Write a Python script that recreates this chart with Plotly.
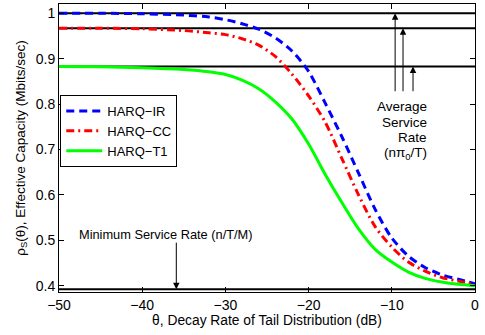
import plotly.graph_objects as go

theta = [-50, -45, -40, -35, -32, -30, -28, -26, -24, -22, -20, -18, -16, -14, -12, -10, -8, -6, -4, -2, 0]
harq_ir = [1.0, 1.0, 0.999, 0.996, 0.992, 0.986, 0.977, 0.965, 0.946, 0.917, 0.872, 0.802, 0.728, 0.648, 0.568, 0.505, 0.465, 0.44, 0.424, 0.414, 0.404]
harq_cc = [0.967, 0.967, 0.966, 0.962, 0.957, 0.953, 0.944, 0.93, 0.905, 0.866, 0.818, 0.76, 0.68, 0.60, 0.53, 0.485, 0.452, 0.432, 0.418, 0.41, 0.402]
harq_t1 = [0.883, 0.882, 0.88, 0.876, 0.871, 0.865, 0.853, 0.834, 0.805, 0.767, 0.712, 0.645, 0.583, 0.525, 0.48, 0.452, 0.43, 0.416, 0.408, 0.403, 0.4]

avg_rates = [1.0, 0.967, 0.883]
min_rate = 0.392
x_ticks = [-50, -40, -30, -20, -10, 0]
y_ticks = [0.4, 0.5, 0.6, 0.7, 0.8, 0.9, 1.0]

FONT = "Liberation Sans, Arial, Helvetica, sans-serif"

fig = go.Figure()
fig.add_trace(go.Scatter(x=theta, y=harq_ir, name="HARQ−IR", mode="lines",
                         line=dict(color="#0000FF", width=3, dash="8px,5px", shape="spline", smoothing=0.8)))
fig.add_trace(go.Scatter(x=theta, y=harq_cc, name="HARQ−CC", mode="lines",
                         line=dict(color="#FF0000", width=3, dash="8px,4px,2px,4px", shape="spline", smoothing=0.8)))
fig.add_trace(go.Scatter(x=theta, y=harq_t1, name="HARQ−T1", mode="lines",
                         line=dict(color="#00FF00", width=3, shape="spline", smoothing=0.8)))

for r in avg_rates + [min_rate]:
    fig.add_hline(y=r, line=dict(color="black", width=2), layer="below")

# Average service rate arrows
arrow_x = [-9.6, -8.65, -7.45]
for ax_, r in zip(arrow_x, avg_rates):
    fig.add_annotation(x=ax_, y=r, ax=ax_, ay=0.825, xref="x", yref="y", axref="x", ayref="y",
                       text="", showarrow=True, arrowhead=2, arrowsize=1.3, arrowwidth=1, arrowcolor="black")

for txt, yy in [("Average", 0.794), ("Service", 0.759), ("Rate", 0.727), ("(nπ<sub>0</sub>/T)", 0.692)]:
    fig.add_annotation(x=-5.5, y=yy, xref="x", yref="y", text=txt, showarrow=False,
                       xanchor="right", yanchor="middle", font=dict(family=FONT, size=13.5, color="black"))

# Minimum service rate
fig.add_annotation(x=-35.9, y=min_rate, ax=-35.9, ay=0.498, xref="x", yref="y", axref="x", ayref="y",
                   text="", showarrow=True, arrowhead=2, arrowsize=1.3, arrowwidth=1, arrowcolor="black")
fig.add_annotation(x=-37.1, y=0.513, xref="x", yref="y", text="Minimum Service Rate (n/T/M)",
                   showarrow=False, xanchor="center", yanchor="middle",
                   font=dict(family=FONT, size=12.8, color="black"))

fig.update_layout(
    width=485, height=335,
    margin=dict(l=59, r=10, t=4, b=43),
    paper_bgcolor="white", plot_bgcolor="white",
    font=dict(family=FONT, size=14, color="black"),
    showlegend=True,
    legend=dict(x=0.003, y=0.684, xanchor="left", yanchor="top",
                bgcolor="white", bordercolor="black", borderwidth=1,
                font=dict(family=FONT, size=13, color="black"),
                tracegroupgap=0, itemwidth=36),
)
fig.update_xaxes(range=[-50, 0], tickvals=x_ticks, ticks="inside", ticklen=5, tickcolor="black",
                 tickfont=dict(size=14),
                 showline=True, linecolor="black", linewidth=1, mirror="allticks", showgrid=False,
                 zeroline=False, automargin=False,
                 title=dict(text="θ, Decay Rate of Tail Distribution (dB)", font=dict(size=13.8), standoff=3))
fig.update_yaxes(range=[0.386, 1.0205], tickvals=y_ticks, ticktext=["0.4", "0.5", "0.6", "0.7", "0.8", "0.9", "1"],
                 ticks="inside", ticklen=5, tickcolor="black", tickfont=dict(size=14),
                 showline=True, linecolor="black", linewidth=1, mirror="allticks",
                 showgrid=False, zeroline=False, automargin=False,
                 title=dict(text="ρ<sub>S</sub>(θ), Effective Capacity (Mbits/sec)", font=dict(size=13.5), standoff=7))

fig.write_html("out.html", config={"displayModeBar": False},
               post_script="document.body.style.margin='0';document.body.style.padding='0';")
